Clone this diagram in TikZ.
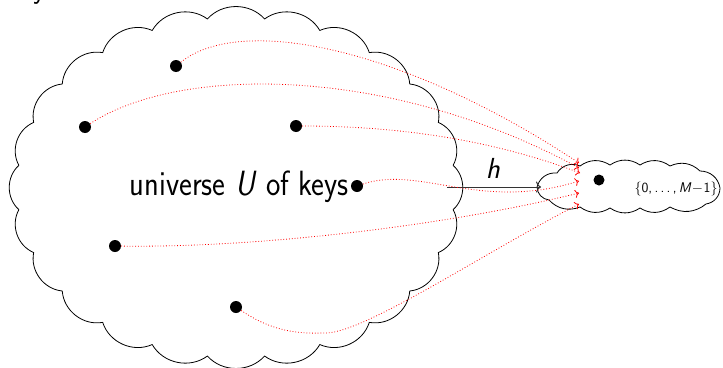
\documentclass[tikz,border=0pt]{standalone}
\usetikzlibrary{arrows.meta}
\begin{document}
\begin{tikzpicture}[x=1pt,y=-1pt,
  cloudline/.style={draw=black, line width=0.8pt, line join=round},
  keydot/.style={circle, fill=black, inner sep=0pt, minimum size=12pt},
  slotdot/.style={circle, fill=black, inner sep=0pt, minimum size=11pt},
  hasharrow/.style={red, dotted, line width=0.8pt, -{To[length=4pt,width=8pt]}},
  maparrow/.style={black!80, line width=1pt, -{To[length=5pt,width=11pt]}},
  bigtext/.style={inner sep=0pt, font=\fontsize{29}{34}\selectfont\sffamily},
  keytext/.style={inner sep=0pt, font=\fontsize{30.5}{36}\selectfont\sffamily},
  smalltext/.style={inner sep=0pt, font=\fontsize{14}{17}\selectfont\sffamily}]
\useasboundingbox (0,0) rectangle (723,367);

% clipped fragment of a label above the picture
\node[bigtext, anchor=base west] (frag) at (33,-1.6) {y};

% universe cloud
\draw[cloudline] ({236+219*cos(7.5)},{187.5-170*sin(7.5)})
  \foreach \i in {1,...,24}{ to[bend right=48] ({236+219*cos(7.5+15*\i)},{187.5-170*sin(7.5+15*\i)}) } -- cycle;

% range cloud
\draw[cloudline] (706,204) to[bend right=40] (720,188) to[bend right=40] (700,171)
  to[bend right=34] (670,166) to[bend right=34] (640,165) to[bend right=34] (610,165)
  to[bend right=34] (580,166) to[bend right=40] (557,173) to[bend right=40] (537,187)
  to[bend right=40] (549,200) to[bend right=34] (580,207) to[bend right=34] (610,208)
  to[bend right=34] (640,208) to[bend right=34] (670,207) to[bend right=34] (706,204) -- cycle;

% keys
\node[keydot] (k1) at (176,66) {};
\node[keydot] (k2) at (85,127) {};
\node[keydot] (k3) at (296,126) {};
\node[keydot] (k4) at (357,186) {};
\node[keydot] (k5) at (115,246) {};
\node[keydot] (k6) at (236,307) {};
\node[slotdot] (v) at (599,180) {};

\node[keytext, anchor=base east] (utext) at (349,195) {\scalebox{1}[1.15]{universe \textsl{U} of keys}};
\node[smalltext, anchor=base] (range) at (676,192.5) {\{0,\kern2.5pt.\kern2.2pt.\kern2.2pt.\kern2.5pt,\kern2pt\textsl{M}\kern0.5pt$-$\kern0.5pt1\}};

% hash map arrow
\coordinate (hs) at (447,187);
\coordinate (he) at (541,187);
\draw[maparrow] (hs) -- (he);
\node[bigtext, anchor=base] (hlabel) at (493,178) {\textsl{h}};

% targets
\coordinate (e1) at (579,163);
\coordinate (e2) at (579,168);
\coordinate (e3) at (580,173);
\coordinate (e4) at (579,181);
\coordinate (e5) at (579,193);
\coordinate (e6) at (579,204);
\coordinate (m6) at (323,333);

\draw[hasharrow] (k1) .. controls (240,15) and (400,45) .. (e1);
\draw[hasharrow] (k2) .. controls (180,65) and (390,65) .. (e2);
\draw[hasharrow] (k3) .. controls (380,126) and (480,135) .. (e3);
\draw[hasharrow] (k4) .. controls (420,165) and (480,212) .. (e4);
\draw[hasharrow] (k5) .. controls (260,248) and (450,225) .. (e5);
\draw[hasharrow] (k6) .. controls (270,330) and (295,334) .. (m6) .. controls (360,336) and (480,255) .. (e6);
\end{tikzpicture}
\end{document}
